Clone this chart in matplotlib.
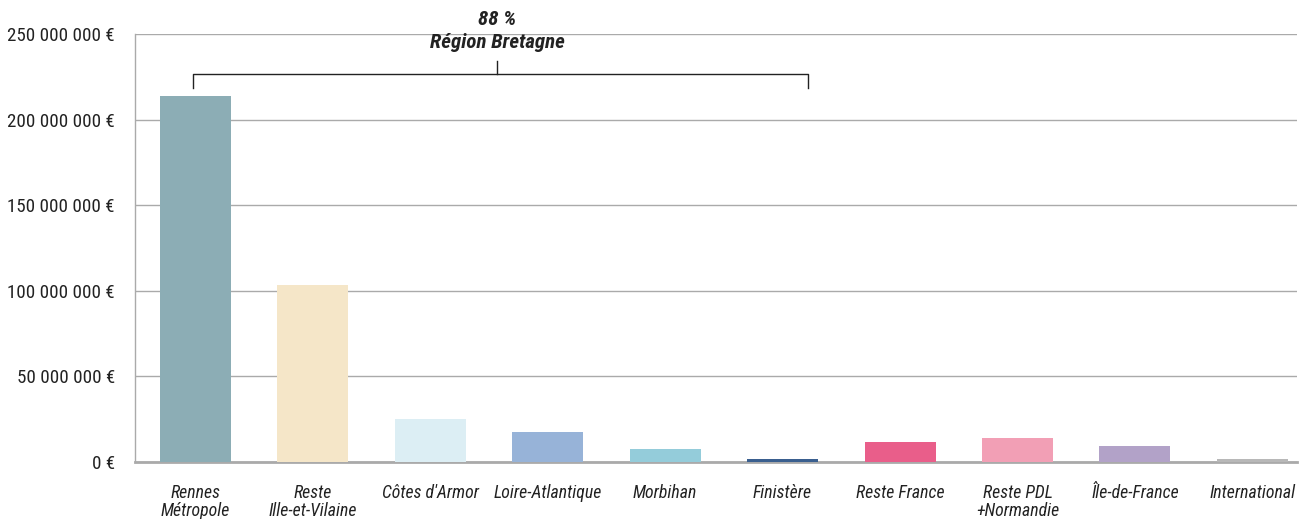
import matplotlib
matplotlib.use("Agg")
import matplotlib.pyplot as plt

categories = ["Rennes\nMétropole", "Reste\nIlle-et-Vilaine", "Côtes d'Armor", "Loire-Atlantique",
              "Morbihan", "Finistère", "Reste France", "Reste PDL\n+Normandie", "Île-de-France", "International"]
values = [213.8e6, 103.4e6, 25.1e6, 17.5e6, 7.6e6, 1.5e6, 11.7e6, 14.0e6, 9.3e6, 2.0e6]
colors = ["#8CADB5", "#F5E6C8", "#DCEEF4", "#97B3D8", "#94CCDA", "#3A5F8F",
          "#E95E8A", "#F29FB5", "#B2A2C8", "#B8B8B8"]
yticks = [0, 50e6, 100e6, 150e6, 200e6, 250e6]
ytick_labels = ["0 €", "50 000 000 €", "100 000 000 €", "150 000 000 €", "200 000 000 €", "250 000 000 €"]
annot_lines = ["88 %", "Région Bretagne"]

plt.rcParams['font.family'] = ['Roboto Condensed', 'DejaVu Sans']

fig = plt.figure(figsize=(13, 5.19), dpi=100)
ax = fig.add_axes([0.1038, 0.1098, 0.8939, 0.8247])

x = list(range(len(categories)))
ax.bar(x, values, width=0.605, color=colors, zorder=3)

ax.set_ylim(0, 250e6)
ax.set_xlim(-0.515, 9.38)
ax.set_yticks(yticks)
ax.set_yticklabels(ytick_labels, fontsize=13.7, color="#222222")
ax.set_xticks(x)
ax.set_xticklabels(categories, fontsize=12.8, style="italic", color="#222222", linespacing=1.0)
ax.tick_params(axis="both", length=0)
ax.tick_params(axis="y", pad=14.5)
ax.tick_params(axis="x", pad=16)
ax.yaxis.grid(True, color="#AAAAAA", linewidth=1, zorder=0)
ax.set_axisbelow(True)
for s in ["top", "right"]:
    ax.spines[s].set_visible(False)
ax.spines["left"].set_color("#AAAAAA")
ax.spines["left"].set_linewidth(1)
ax.spines["bottom"].set_color("#AAAAAA")
ax.spines["bottom"].set_linewidth(2)

# bracket (data coords in x, axes fraction in y)
trans = ax.get_xaxis_transform()
xl, xr, xc = -0.02, 5.22, 2.57
yb, ye, yt = 0.9065, 0.874, 0.937
ax.plot([xl, xl, xr, xr], [ye, yb, yb, ye], transform=trans, color="#222222", lw=1, clip_on=False)
ax.plot([xc, xc], [yb, yt], transform=trans, color="#222222", lw=1, clip_on=False)
ax.text(xc, 1.035, annot_lines[0], transform=trans, ha="center", va="center",
        fontsize=15, style="italic", fontweight="bold", color="#222222")
ax.text(xc, 0.981, annot_lines[1], transform=trans, ha="center", va="center",
        fontsize=15, style="italic", fontweight="bold", color="#222222")

fig.savefig("out.png", dpi=100)
